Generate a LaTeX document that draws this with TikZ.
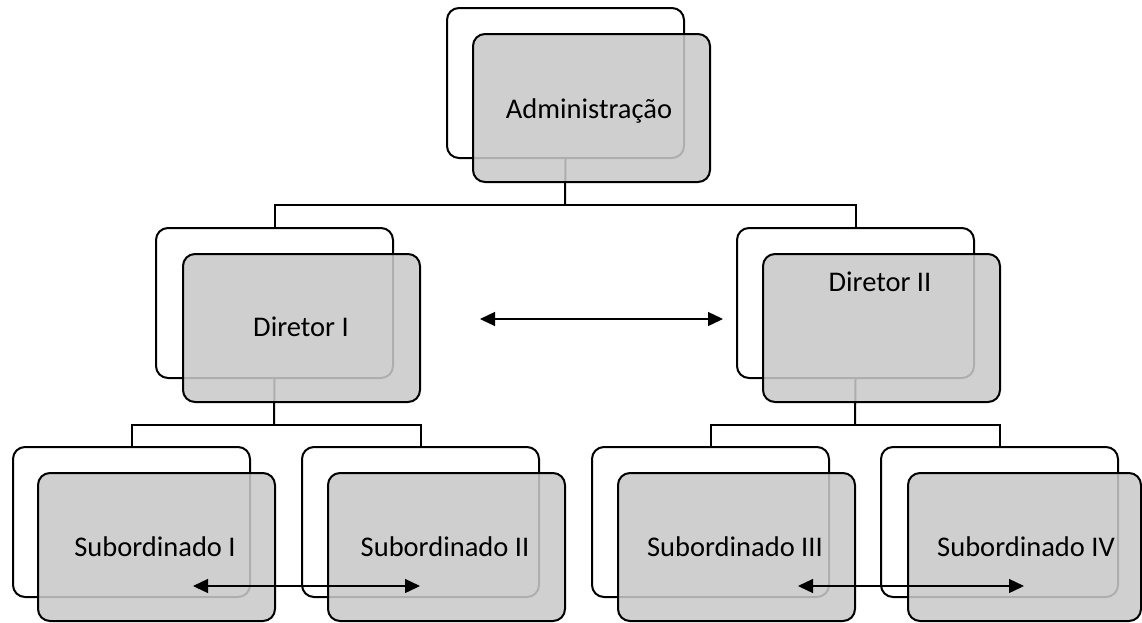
\documentclass[tikz,border=0pt]{standalone}
\usepackage{fontspec}
\setmainfont{Carlito}
\usetikzlibrary{arrows.meta}
\definecolor{boxgray}{gray}{0.79}
\tikzset{
  backbox/.style={draw=black, line width=2pt, rounded corners=12pt, fill=white,
    minimum width=237pt, minimum height=150pt, inner sep=0pt, anchor=north west},
  frontbox/.style={draw=black, line width=2pt, rounded corners=12pt, fill=boxgray, fill opacity=0.87,
    minimum width=237pt, minimum height=148pt, inner sep=0pt, anchor=north west},
  conn/.style={line width=2pt, draw=black},
  twoway/.style={line width=1.3pt, {Triangle[length=15pt,width=14pt]}-{Triangle[length=15pt,width=14pt]}},
  lbl/.style={font=\fontsize{28.5}{34}\selectfont, anchor=base, inner sep=0pt}
}
\begin{document}
\begin{tikzpicture}[x=1pt,y=-1pt]
\useasboundingbox (0,0) rectangle (1142,622);
% back boxes
\node[backbox] (aB) at (446,7) {};
\node[backbox] (d1B) at (155,227) {};
\node[backbox] (d2B) at (736,227) {};
\node[backbox] (s1B) at (12,446) {};
\node[backbox] (s2B) at (301,446) {};
\node[backbox] (s3B) at (591,446) {};
\node[backbox] (s4B) at (880,446) {};
% connectors
\coordinate (j1) at (565,205);
\coordinate (j2) at (274,425);
\coordinate (j3) at (855,425);
\draw[conn] (aB.south) -- (j1);
\draw[conn] (d1B.north) |- (j1) -| (d2B.north);
\draw[conn] (d1B.south) -- (j2);
\draw[conn] (s1B.north) |- (j2) -| (s2B.north);
\draw[conn] (d2B.south) -- (j3);
\draw[conn] (s3B.north) |- (j3) -| (s4B.north);
% front boxes
\node[frontbox] (aF) at (472,33) {};
\node[frontbox] (d1F) at (182,253) {};
\node[frontbox] (d2F) at (762,253) {};
\node[frontbox] (s1F) at (37,472) {};
\node[frontbox] (s2F) at (327,472) {};
\node[frontbox] (s3F) at (617,472) {};
\node[frontbox, minimum width=233pt] (s4F) at (907,472) {};
% labels
\node[lbl] (ta) at (589,118) {Administração};
\node[lbl] (td1) at (301,336) {Diretor I};
\node[lbl] (td2) at (880,291) {Diretor II};
\node[lbl] (ts1) at (155,556) {Subordinado I};
\node[lbl] (ts2) at (445,556) {Subordinado II};
\node[lbl] (ts3) at (735,556) {Subordinado III};
\node[lbl] (ts4) at (1026,556) {Subordinado IV};
% two-way arrows
\coordinate (m1) at (480,319);
\coordinate (m2) at (723,319);
\coordinate (l1) at (193,586);
\coordinate (l2) at (420,586);
\coordinate (r1) at (798,586);
\coordinate (r2) at (1024,586);
\draw[twoway] (m1) -- (m2);
\draw[twoway] (l1) -- (l2);
\draw[twoway] (r1) -- (r2);
\end{tikzpicture}
\end{document}
